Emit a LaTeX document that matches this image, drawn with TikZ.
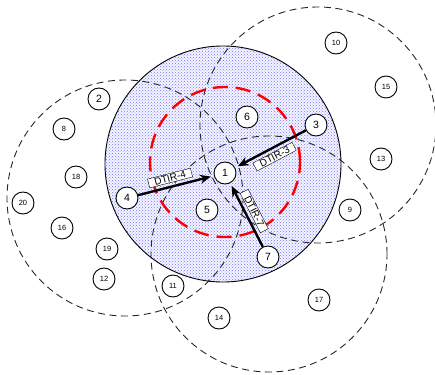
\documentclass[tikz,border=0pt]{standalone}
\usepackage{fontspec}
\setmainfont{Liberation Sans}
\usetikzlibrary{patterns, arrows.meta}

\begin{document}
\begin{tikzpicture}[x=1pt, y=-1pt, >={Stealth[length=11pt, width=9pt]}]
  % Styles du schéma
  \tikzset{
    zone/.style={black!85, line width=0.9pt, dash pattern=on 7pt off 4.5pt},
    portee/.style={red, line width=2.4pt, dash pattern=on 15pt off 8pt},
    fleche/.style={->, line width=2.4pt, shorten >=3pt},
    noeud/.style={circle, draw, fill=white, line width=0.9pt, minimum size=22pt, inner sep=0pt, font=\fontsize{10.5}{10.5}\selectfont},
    petit/.style={noeud, font=\fontsize{7.5}{7.5}\selectfont},
    etiq/.style={draw, fill=white, thin, sloped, inner xsep=6pt, inner ysep=1pt, text height=7pt, text depth=0pt, font=\fontsize{10}{10}\selectfont}
  }
  \useasboundingbox (0,0) rectangle (435,374);

  % Zone de couverture du noeud 1 (remplissage pointillé)
  \fill[blue!4] (223,164) circle[radius=118pt];
  \fill[pattern=crosshatch dots, pattern color=blue!55] (223,164) circle[radius=118pt];

  % Zones des voisins
  \draw[zone] (125,198) circle[radius=118pt];
  \draw[zone] (318,125) circle[radius=118pt];
  \draw[zone] (269,254) circle[radius=118pt];

  % Portée (cercle rouge) et bord de la zone
  \draw[portee] (225,162) circle[radius=75pt];
  \draw[line width=0.9pt] (223,164) circle[radius=118pt];

  % --- Noeuds ---
  \node[noeud] (n1) at (225,173) {1};
  \node[noeud] (n2) at (99,99) {2};
  \node[noeud] (n3) at (316,125) {3};
  \node[noeud] (n4) at (127,198) {4};
  \node[noeud] (n5) at (207,210) {5};
  \node[noeud] (n6) at (247,117) {6};
  \node[noeud] (n7) at (268,257) {7};
  \node[petit] (n8) at (64,129) {8};
  \node[petit] (n9) at (350,210) {9};
  \node[petit] (n10) at (336,43) {10};
  \node[petit] (n11) at (173,286) {11};
  \node[petit] (n12) at (104,279) {12};
  \node[petit] (n13) at (381,159) {13};
  \node[petit] (n14) at (219,318) {14};
  \node[petit] (n15) at (386,87) {15};
  \node[petit] (n16) at (62,228) {16};
  \node[petit] (n17) at (319,300) {17};
  \node[petit] (n18) at (76,177) {18};
  \node[petit] (n19) at (107,249) {19};
  \node[petit] (n20) at (23,203) {20};

  % --- Liens DTIR vers le noeud 1 ---
  \draw[fleche] (n4) -- (n1) node[etiq, pos=0.45, above=4pt] (d4) {DTIR-4};
  \draw[fleche] (n3) -- (n1) node[etiq, midway, below=4pt] (d3) {DTIR-3};
  \draw[fleche] (n7) -- (n1) node[etiq, midway, above=4pt] (d7) {DTIR-7};

\end{tikzpicture}
\end{document}
